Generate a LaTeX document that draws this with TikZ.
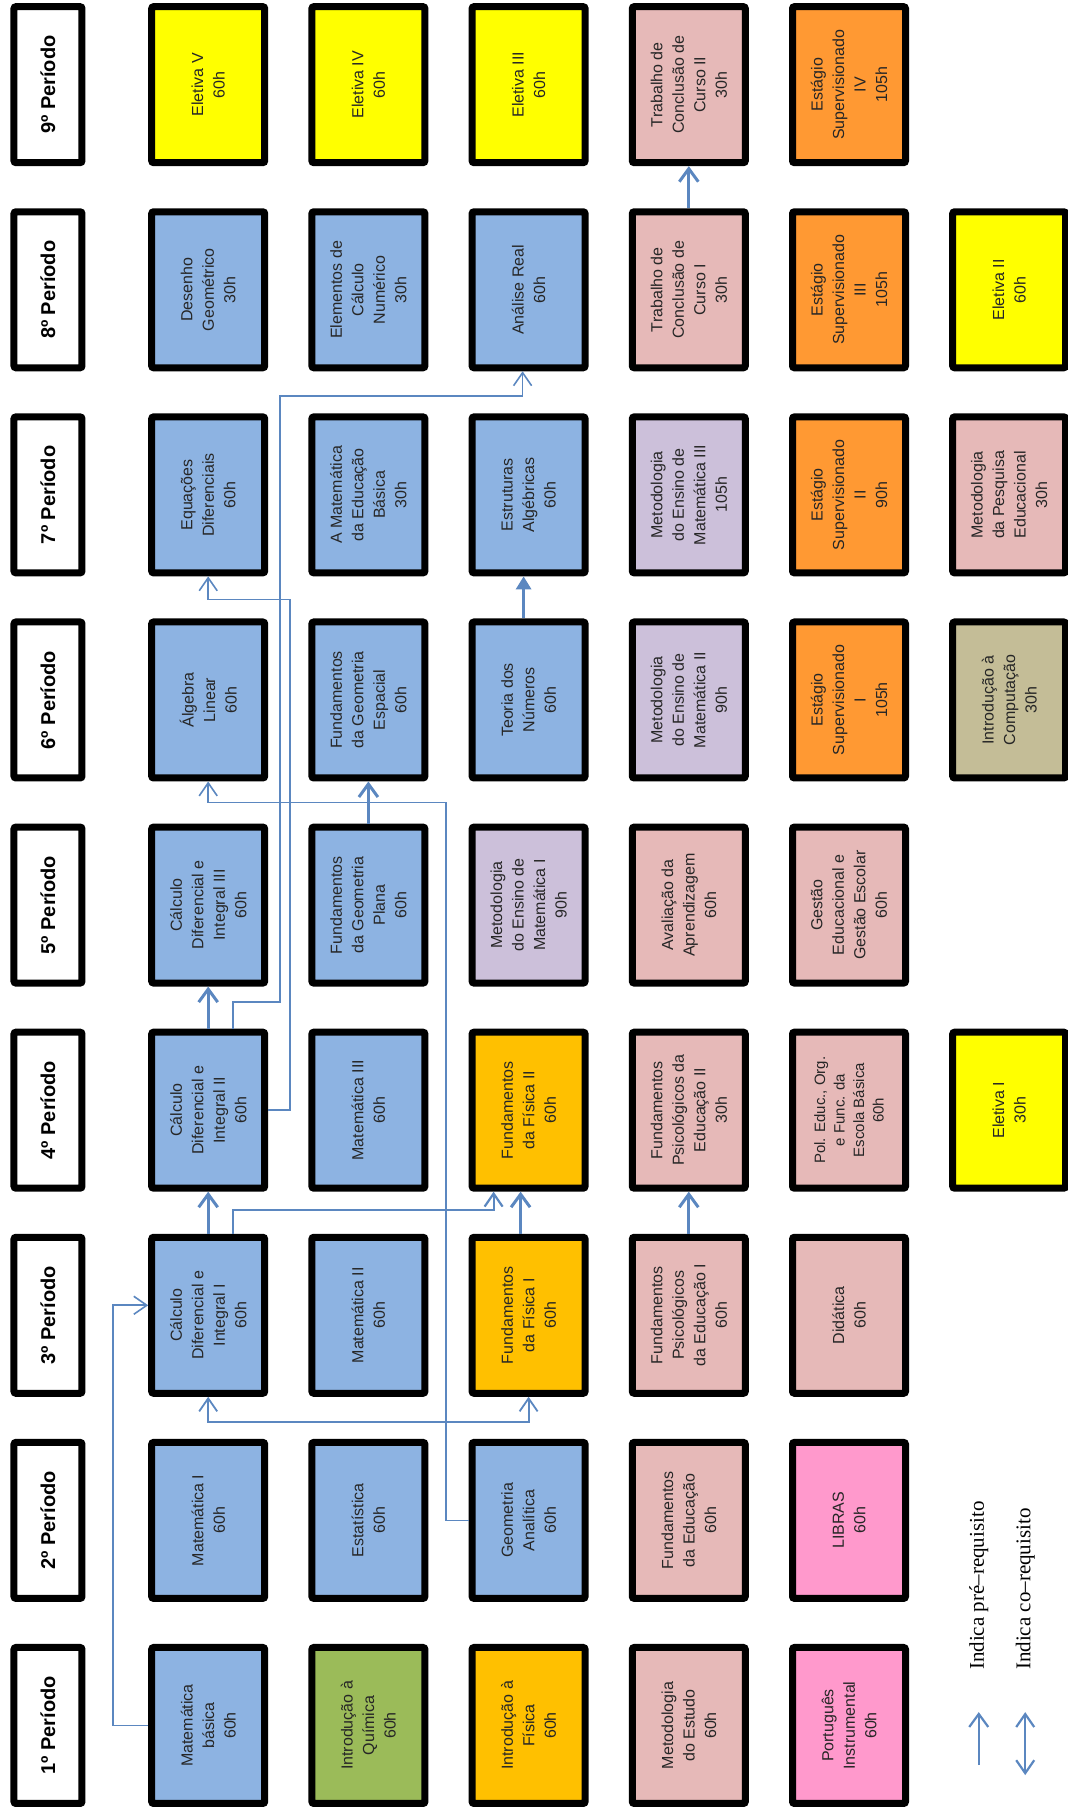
\documentclass[tikz,border=0pt]{standalone}
\usepackage{fontspec}
\setmainfont{Liberation Sans}
\newfontfamily\legendfont{Liberation Serif}
\usetikzlibrary{arrows.meta}

\definecolor{azul}{HTML}{8DB3E2}
\definecolor{verde}{HTML}{9BBB59}
\definecolor{ouro}{HTML}{FFC000}
\definecolor{rosa}{HTML}{E6B9B8}
\definecolor{choque}{HTML}{FF99CC}
\definecolor{lilas}{HTML}{CCC0DA}
\definecolor{laranja}{HTML}{FF9933}
\definecolor{amarelo}{HTML}{FFFF00}
\definecolor{caqui}{HTML}{C4BD97}
\definecolor{seta}{HTML}{5B87C0}

\begin{document}
\begin{tikzpicture}[x=205.1pt, y=-160.2pt, rotate=90, transform shape,
  every node/.style={font=\fontsize{16}{21.5}\selectfont},
  box/.style={draw,line width=7pt,rounded corners=2pt,minimum width=156pt,minimum height=113pt,align=center,inner sep=1pt,text=black!85},
  per/.style={box,fill=white,minimum height=68pt,text=black,font=\bfseries\fontsize{20}{24}\selectfont},
  req/.style={draw=seta,line width=3pt,-{Straight Barb[length=13pt,width=19pt]}},
  reqfino/.style={draw=seta,line width=1.6pt,-{Straight Barb[length=13pt,width=18pt]}},
  coreq/.style={draw=seta,line width=1.8pt,{Straight Barb[length=13pt,width=18pt]}-{Straight Barb[length=13pt,width=18pt]}},
  leg/.style={font=\legendfont\fontsize{21}{24}\selectfont,anchor=west,inner sep=0pt}]
\useasboundingbox (0.549,-0.2996) rectangle (9.413,6.367);

% periodos
\foreach \k in {1,...,9}
  \node[per] (p\k) at (\k,0) {\k{}º Período};

% 1o periodo
\node[box,fill=azul] (matbas) at (1,1) {Matemática\\básica\\60h};
\node[box,fill=verde] (quim) at (1,2) {Introdução à\\Química\\60h};
\node[box,fill=ouro] (introfis) at (1,3) {Introdução à\\Física\\60h};
\node[box,fill=rosa] (metest) at (1,4) {Metodologia\\do Estudo\\60h};
\node[box,fill=choque] (port) at (1,5) {Português\\Instrumental\\60h};
% 2o periodo
\node[box,fill=azul] (mat1) at (2,1) {Matemática I\\60h};
\node[box,fill=azul] (estat) at (2,2) {Estatística\\60h};
\node[box,fill=azul] (geoan) at (2,3) {Geometria\\Analítica\\60h};
\node[box,fill=rosa] (fundedu) at (2,4) {Fundamentos\\da Educação\\60h};
\node[box,fill=choque] (libras) at (2,5) {LIBRAS\\60h};
% 3o periodo
\node[box,fill=azul] (calc1) at (3,1) {Cálculo\\Diferencial e\\Integral I\\60h};
\node[box,fill=azul] (mat2) at (3,2) {Matemática II\\60h};
\node[box,fill=ouro] (fis1) at (3,3) {Fundamentos\\da Física I\\60h};
\node[box,fill=rosa] (psic1) at (3,4) {Fundamentos\\Psicológicos\\da Educação I\\60h};
\node[box,fill=rosa] (didat) at (3,5) {Didática\\60h};
% 4o periodo
\node[box,fill=azul] (calc2) at (4,1) {Cálculo\\Diferencial e\\Integral II\\60h};
\node[box,fill=azul] (mat3) at (4,2) {Matemática III\\60h};
\node[box,fill=ouro] (fis2) at (4,3) {Fundamentos\\da Física II\\60h};
\node[box,fill=rosa] (psic2) at (4,4) {Fundamentos\\Psicológicos da\\Educação II\\30h};
\node[box,fill=rosa,font=\fontsize{15}{19.5}\selectfont] (polit) at (4,5) {Pol. Educ., Org.\\e Func. da\\Escola Básica\\60h};
\node[box,fill=amarelo] (elet1) at (4,6) {Eletiva I\\30h};
% 5o periodo
\node[box,fill=azul] (calc3) at (5,1) {Cálculo\\Diferencial e\\Integral III\\60h};
\node[box,fill=azul] (geopl) at (5,2) {Fundamentos\\da Geometria\\Plana\\60h};
\node[box,fill=lilas] (met1) at (5,3) {Metodologia\\do Ensino de\\Matemática I\\90h};
\node[box,fill=rosa] (aval) at (5,4) {Avaliação da\\Aprendizagem\\60h};
\node[box,fill=rosa] (gest) at (5,5) {Gestão\\Educacional e\\Gestão Escolar\\60h};
% 6o periodo
\node[box,fill=azul] (alglin) at (6,1) {Álgebra\\Linear\\60h};
\node[box,fill=azul] (geoesp) at (6,2) {Fundamentos\\da Geometria\\Espacial\\60h};
\node[box,fill=azul] (teonum) at (6,3) {Teoria dos\\Números\\60h};
\node[box,fill=lilas] (met2) at (6,4) {Metodologia\\do Ensino de\\Matemática II\\90h};
\node[box,fill=laranja] (est1) at (6,5) {Estágio\\Supervisionado\\I\\105h};
\node[box,fill=caqui] (comp) at (6,6) {Introdução à\\Computação\\30h};
% 7o periodo
\node[box,fill=azul] (eqdif) at (7,1) {Equações\\Diferenciais\\60h};
\node[box,fill=azul] (mateb) at (7,2) {A Matemática\\da Educação\\Básica\\30h};
\node[box,fill=azul] (estalg) at (7,3) {Estruturas\\Algébricas\\60h};
\node[box,fill=lilas] (met3) at (7,4) {Metodologia\\do Ensino de\\Matemática III\\105h};
\node[box,fill=laranja] (est2) at (7,5) {Estágio\\Supervisionado\\II\\90h};
\node[box,fill=rosa] (metpesq) at (7,6) {Metodologia\\da Pesquisa\\Educacional\\30h};
% 8o periodo
\node[box,fill=azul] (desgeo) at (8,1) {Desenho\\Geométrico\\30h};
\node[box,fill=azul] (calcnum) at (8,2) {Elementos de\\Cálculo\\Numérico\\30h};
\node[box,fill=azul] (anreal) at (8,3) {Análise Real\\60h};
\node[box,fill=rosa] (tcc1) at (8,4) {Trabalho de\\Conclusão de\\Curso I\\30h};
\node[box,fill=laranja] (est3) at (8,5) {Estágio\\Supervisionado\\III\\105h};
\node[box,fill=amarelo] (elet2) at (8,6) {Eletiva II\\60h};
% 9o periodo
\node[box,fill=amarelo] (elet5) at (9,1) {Eletiva V\\60h};
\node[box,fill=amarelo] (elet4) at (9,2) {Eletiva IV\\60h};
\node[box,fill=amarelo] (elet3) at (9,3) {Eletiva III\\60h};
\node[box,fill=rosa] (tcc2) at (9,4) {Trabalho de\\Conclusão de\\Curso II\\30h};
\node[box,fill=laranja] (est4) at (9,5) {Estágio\\Supervisionado\\IV\\105h};

% pre-requisitos
\draw[reqfino] (matbas.north) -- ++(0,-0.22) -| ([xshift=10pt]calc1.north);
\draw[coreq] (calc1.west) -- ++(-0.123,0) |- (fis1.west);
\draw[req] (calc1) -- (calc2);
\draw[reqfino,line width=2.2pt] ([yshift=-25pt]calc1.east) -- ++(0.116,0) |- ([yshift=35pt]fis2.west);
\draw[req] ([yshift=8pt]fis1.east) -- ([yshift=8pt]fis2.west);
\draw[req] (psic1) -- (psic2);
\draw[req] (calc2) -- (calc3);
\draw[reqfino] ([yshift=-25pt]calc2.east) -- ++(0.13,0) -- ++(0,0.293) -| ([xshift=-25pt,yshift=6pt]anreal.west) -- ([yshift=6pt]anreal.west);
\draw[reqfino] (calc2.south) -- ++(0,0.137) -| ([xshift=-23pt]eqdif.west) -- (eqdif.west);
\draw[reqfino] (geoan.north) -- ++(0,-0.141) -| ([xshift=-21pt]alglin.west) -- (alglin.west);
\draw[req] (geopl) -- (geoesp);
\draw[req,-{Triangle[length=13pt,width=15pt]}] ([yshift=5pt]teonum.east) -- ([yshift=5pt]estalg.west);
\draw[req] (tcc1) -- (tcc2);

% legenda
\node[leg] (lpre) at (1.27,5.81) {Indica pré–requisito};
\node[leg] (lco) at (1.27,6.10) {Indica co–requisito};
\draw[req,line width=2.2pt] ([xshift=-95pt]lpre.west) -- ([xshift=-42pt]lpre.west);
\draw[coreq,line width=2.2pt] ([xshift=-105pt]lco.west) -- ([xshift=-42pt]lco.west);
\end{tikzpicture}
\end{document}
